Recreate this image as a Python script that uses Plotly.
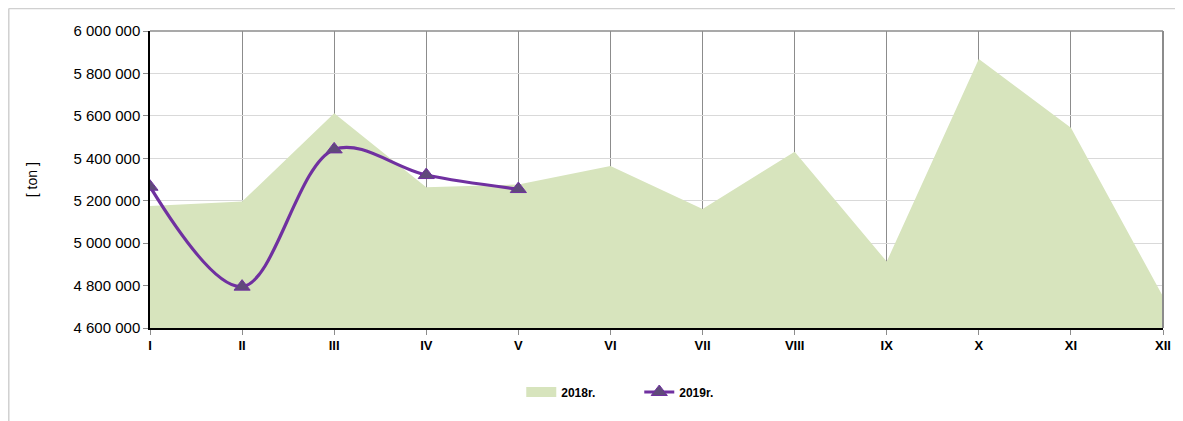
import plotly.graph_objects as go

months = ["I", "II", "III", "IV", "V", "VI", "VII", "VIII", "IX", "X", "XI", "XII"]
values_2018 = [5175000, 5196000, 5612000, 5263000, 5277000, 5364000, 5161000, 5431000, 4913000, 5868000, 5544000, 4748000]
months_2019 = ["I", "II", "III", "IV", "V"]
values_2019 = [5266000, 4795000, 5442000, 5321000, 5255000]
y_ticks = [4600000, 4800000, 5000000, 5200000, 5400000, 5600000, 5800000, 6000000]

FONT = "Liberation Sans, Arial, sans-serif"
GREEN = "#D7E4BD"

fig = go.Figure()
fig.add_trace(go.Scatter(
    x=months, y=values_2018, name="2018r.", mode="lines", showlegend=False,
    legendgroup="2018", fill="tozeroy", fillcolor=GREEN, line=dict(width=0, color=GREEN),
))
# legend-only entry (no data drawn) to give the area series a box-like swatch
fig.add_trace(go.Scatter(
    x=[None], y=[None], name="2018r.", mode="lines", legendgroup="2018",
    line=dict(width=10, color=GREEN),
))
fig.add_trace(go.Scatter(
    x=months_2019, y=values_2019, name="2019r.", mode="lines+markers",
    line=dict(color="#7030A0", width=3.2, shape="spline", smoothing=1),
    marker=dict(symbol="triangle-up", size=14, color="#604A7B",
                line=dict(color="#7030A0", width=1)),
))

OFF = 8
W, H = 1183 - OFF, 421 - OFF
PL, PR, PT, PB = 150, 1165, 31, 328
L, R, T, B = PL - OFF, (W + OFF) - PR, PT - OFF, (H + OFF) - PB
pw = PR - PL
ph = PB - PT

def px(xpix):
    return (xpix - PL) / pw

def py(ypix):
    return (PB - ypix) / ph

fig.update_layout(
    width=W, height=H,
    margin=dict(l=L, r=R, t=T, b=B, pad=0),
    paper_bgcolor="white", plot_bgcolor="white",
    separators=". ",
    font=dict(family=FONT, color="black"),
    showlegend=True,
    legend=dict(orientation="h", x=px(522), y=py(392), xanchor="left", yanchor="middle",
                font=dict(family=FONT, size=12, color="black", weight="bold"),
                entrywidth=73, entrywidthmode="pixels", itemwidth=30, tracegroupgap=0,
                traceorder="normal"),
    xaxis=dict(
        type="category", categoryorder="array", categoryarray=months,
        range=[0, len(months) - 1],
        showgrid=True, gridcolor="#8C8C8C", gridwidth=1,
        showline=True, linecolor="black", linewidth=1.5,
        ticks="outside", ticklen=5, tickcolor="#8C8C8C",
        tickfont=dict(family=FONT, size=13, color="black", weight="bold"),
        zeroline=False,
    ),
    yaxis=dict(
        range=[4600000, 6000000],
        tickvals=y_ticks, tickformat=",d",
        showgrid=True, gridcolor="#D9D9D9", gridwidth=1,
        showline=True, linecolor="black", linewidth=1.5,
        ticks="outside", ticklen=5, tickcolor="#8C8C8C",
        tickfont=dict(family=FONT, size=15, color="black"),
        zeroline=False,
    ),
    annotations=[dict(
        text="[ ton ]", textangle=-90, xref="paper", yref="paper",
        x=px(32), y=py(180), xanchor="center", yanchor="middle", showarrow=False,
        font=dict(family=FONT, size=14, color="black"),
    )],
    shapes=[
        dict(type="line", xref="paper", yref="paper", x0=0, x1=1, y0=1, y1=1,
             line=dict(color="#8C8C8C", width=1.5)),
        dict(type="line", xref="paper", yref="paper", x0=1, x1=1, y0=0, y1=1,
             line=dict(color="#8C8C8C", width=2)),
        dict(type="line", xref="paper", yref="paper", x0=px(8.5), x1=px(1183), y0=py(8.5), y1=py(8.5),
             line=dict(color="#D0D0D0", width=1.5)),
        dict(type="line", xref="paper", yref="paper", x0=px(8.5), x1=px(8.5), y0=py(8.5), y1=py(421),
             line=dict(color="#D0D0D0", width=1.5)),
    ],
)

fig.write_html("out.html")
